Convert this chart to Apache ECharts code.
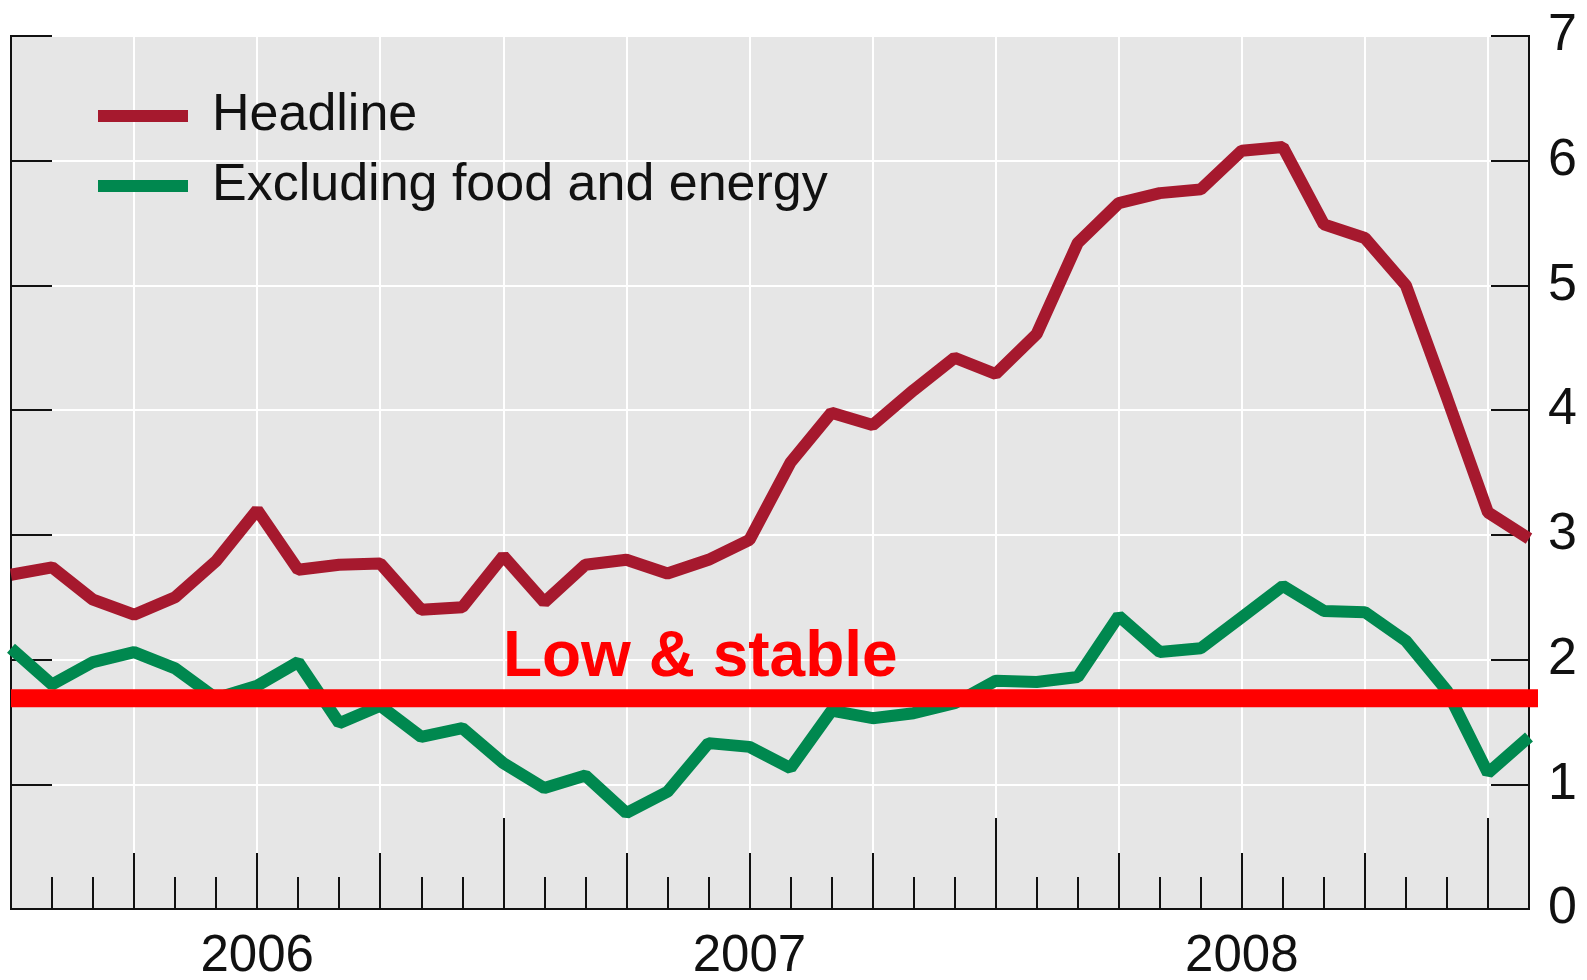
<!DOCTYPE html>
<html>
<head>
<meta charset="UTF-8">
<script src="https://cdn.jsdelivr.net/npm/echarts@6/dist/echarts.min.js"></script>
<style>
    html, body {margin: 0; padding: 0; background: #ffffff;}
    #chartDiv {width: 1587px; height: 980px;}
</style>
</head>
<body>
<div id="chartDiv"></div>
<script type="text/javascript">
    // monthly data, Jan 2006 - Feb 2009 (percent change from year earlier)
    var months = ['2006-01','2006-02','2006-03','2006-04','2006-05','2006-06','2006-07','2006-08','2006-09','2006-10','2006-11','2006-12',
                  '2007-01','2007-02','2007-03','2007-04','2007-05','2007-06','2007-07','2007-08','2007-09','2007-10','2007-11','2007-12',
                  '2008-01','2008-02','2008-03','2008-04','2008-05','2008-06','2008-07','2008-08','2008-09','2008-10','2008-11','2008-12',
                  '2009-01','2009-02'];
    var headline = [2.68, 2.74, 2.48, 2.36, 2.50, 2.79, 3.20, 2.72, 2.76, 2.77, 2.40, 2.42,
                    2.83, 2.46, 2.76, 2.80, 2.69, 2.80, 2.96, 3.58, 3.98, 3.88, 4.16, 4.42,
                    4.29, 4.61, 5.34, 5.66, 5.74, 5.77, 6.08, 6.11, 5.49, 5.38, 5.00, 4.10,
                    3.18, 2.97];
    var exFoodEnergy = [2.09, 1.80, 1.98, 2.06, 1.93, 1.69, 1.79, 1.98, 1.49, 1.63, 1.38, 1.45,
                        1.17, 0.97, 1.07, 0.77, 0.94, 1.33, 1.30, 1.13, 1.59, 1.53, 1.57, 1.65,
                        1.83, 1.82, 1.86, 2.35, 2.06, 2.09, 2.34, 2.59, 2.39, 2.38, 2.15, 1.75,
                        1.09, 1.38];
    var seriesNames = ['Headline', 'Excluding food and energy'];
    var yearLabels = ['2006', '2007', '2008'];
    var yTicks = [0, 1, 2, 3, 4, 5, 6, 7];

    // annotation
    var lowStableText = 'Low & stable';
    var lowStableLevel = 1.69;
    var lowStableSpan = [0, 37.42];      // bar runs a little past the right border
    var lowStableTextAt = [16.8, 2.01];

    var fontName = 'Liberation Sans, Arial, Helvetica, sans-serif';
    var axisColor = '#111111';
    var lastIdx = months.length - 1;

    var toPoints = function (arr) {
        return arr.map(function (v, i) { return [i, v]; });
    };

    //x轴：月、季、年三层刻度 + 年份标签
    var makeX = function (interval, tickLen, opts) {
        var ax = {
            type: 'value', position: 'bottom', min: 0, max: lastIdx, interval: interval,
            axisLine: {show: false, onZero: false},
            axisTick: {show: tickLen > 0, inside: true, length: tickLen, lineStyle: {color: axisColor, width: 2}},
            axisLabel: {show: false},
            splitLine: {show: false}
        };
        return Object.assign(ax, opts || {});
    };

    var option = {
        animation: false,
        backgroundColor: '#ffffff',
        grid: {
            left: 11, right: 58, top: 36, bottom: 71,
            show: true, backgroundColor: '#e6e6e6', borderColor: axisColor, borderWidth: 2,
            containLabel: false, outerBoundsMode: 'none'
        },
        legend: {
            orient: 'vertical', left: 93, top: 85,
            icon: 'rect', itemWidth: 90, itemHeight: 12, itemGap: 18,
            textStyle: {fontFamily: fontName, fontSize: 52, lineHeight: 52, color: axisColor, padding: [0, 0, 0, 19]},
            data: seriesNames
        },
        xAxis: [
            makeX(1, 32, {axisLine: {show: true, onZero: false, lineStyle: {color: axisColor, width: 2}}}),
            makeX(3, 56, {splitLine: {show: true, lineStyle: {color: '#ffffff', width: 2}}}),
            makeX(12, 91),
            makeX(6, 0, {
                axisLabel: {
                    show: true, margin: 22, color: axisColor, fontFamily: fontName, fontSize: 51,
                    formatter: function (v) {
                        return (v % 12 === 6) ? yearLabels[(v - 6) / 12] : '';
                    }
                }
            })
        ],
        yAxis: [
            {
                type: 'value', position: 'left', min: yTicks[0], max: yTicks[yTicks.length - 1], interval: 1,
                axisLine: {show: true, onZero: false, lineStyle: {color: axisColor, width: 2}},
                axisTick: {show: true, inside: true, length: 41, lineStyle: {color: axisColor, width: 2}},
                axisLabel: {show: false},
                splitLine: {show: true, lineStyle: {color: '#ffffff', width: 2}}
            },
            {
                type: 'value', position: 'right', min: yTicks[0], max: yTicks[yTicks.length - 1], interval: 1,
                axisLine: {show: true, onZero: false, lineStyle: {color: axisColor, width: 2}},
                axisTick: {show: true, inside: true, length: 38, lineStyle: {color: axisColor, width: 2}},
                axisLabel: {show: true, margin: 19, color: axisColor, fontFamily: fontName, fontSize: 52},
                splitLine: {show: false}
            }
        ],
        series: [
            {
                name: seriesNames[0], type: 'line', data: toPoints(headline),
                symbol: 'none', color: '#a6192e', z: 3,
                lineStyle: {color: '#a6192e', width: 12},
                itemStyle: {color: '#a6192e'}
            },
            {
                name: seriesNames[1], type: 'line', data: toPoints(exFoodEnergy),
                symbol: 'none', color: '#00884f', z: 3,
                lineStyle: {color: '#00884f', width: 12},
                itemStyle: {color: '#00884f'}
            },
            {
                name: 'lowStable', type: 'line', silent: true, clip: false,
                data: [[lowStableSpan[0], lowStableLevel], [lowStableSpan[1], lowStableLevel]],
                symbol: 'none', z: 5,
                lineStyle: {color: '#ff0000', width: 18, cap: 'butt'},
                markPoint: {
                    symbol: 'rect', symbolSize: 0, silent: true,
                    label: {
                        show: true, position: 'inside', formatter: lowStableText,
                        color: '#ff0000', fontFamily: fontName, fontSize: 64, fontWeight: 'bold'
                    },
                    data: [{coord: lowStableTextAt}]
                }
            }
        ]
    };

    var myChart = echarts.init(document.getElementById('chartDiv'));
    myChart.setOption(option);
</script>
</body>
</html>
